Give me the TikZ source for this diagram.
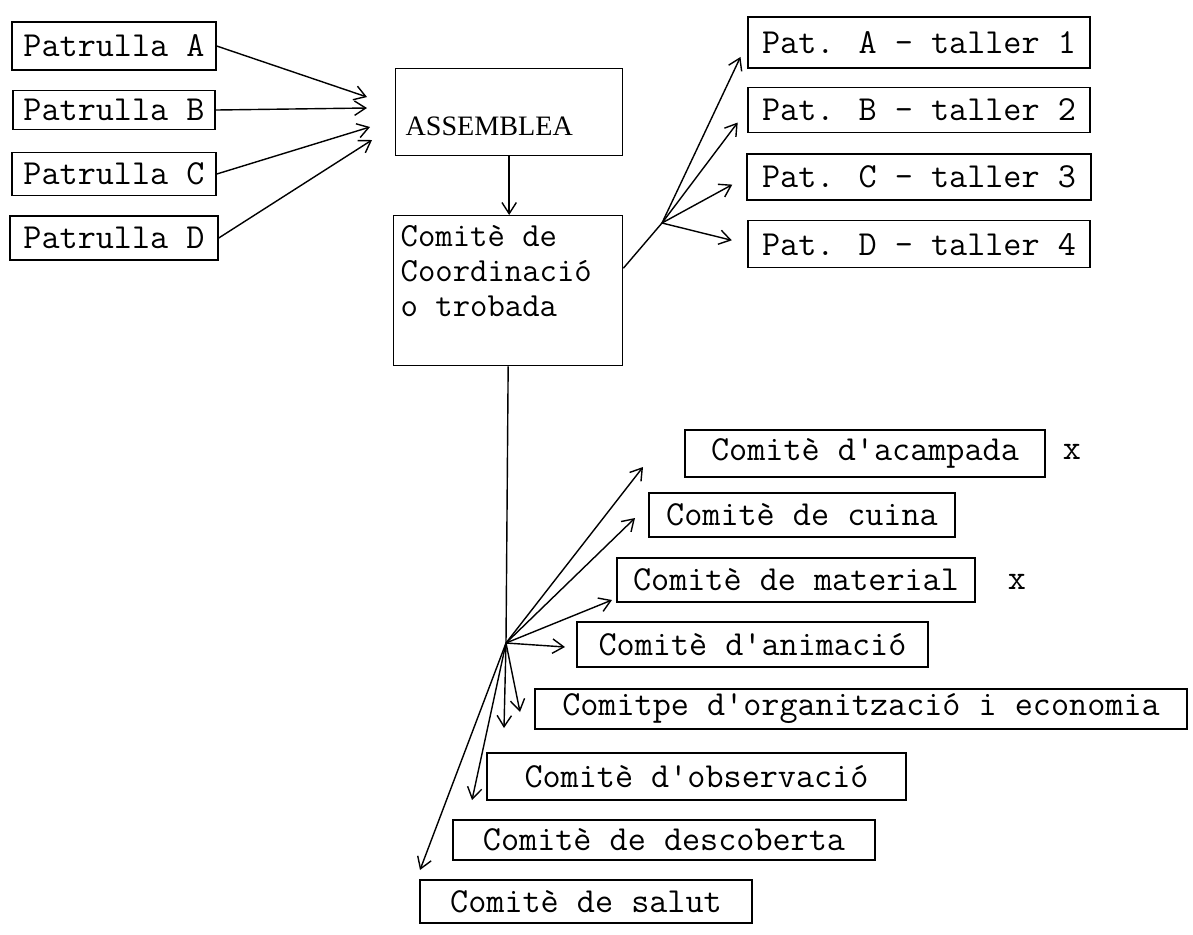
\documentclass[tikz,border=0pt]{standalone}
\usepackage{fontspec}
\newfontfamily\headfont{Liberation Serif}
\usetikzlibrary{arrows.meta, positioning}

\tikzset{
  box/.style={draw, line width=0.9pt, inner sep=0pt, font=\ttfamily\fontsize{25pt}{22pt}\selectfont},
  line/.style={line width=1pt},
  arr/.style={line, ->},
  crossmark/.style={font=\ttfamily\fontsize{25pt}{22pt}\selectfont}
}

\begin{document}
\begin{tikzpicture}[x=0.025cm, y=-0.025cm, >={Straight Barb[length=2.8mm, width=3.6mm]}, node distance=1.6cm]
    \useasboundingbox (0,0) rectangle (1193,935);

    % patrulles
    \node [box, minimum width=5.1cm, minimum height=1.2cm] (patrA) at (114,46) {Patrulla A};
    \node [box, below of=patrA, minimum width=5.05cm, minimum height=0.98cm] (patrB) {Patrulla B};
    \node [box, below of=patrB, minimum width=5.1cm, minimum height=1.08cm] (patrC) {Patrulla C};
    \node [box, below of=patrC, minimum width=5.2cm, minimum height=1.1cm] (patrD) {Patrulla D};

    \node [box, anchor=north west, font=\headfont\fontsize{20pt}{20pt}\selectfont, text width=5.175cm, align=left,
           inner xsep=0.25cm, text height=1.675cm, text depth=0.5cm] (assem) at (395,68) {ASSEMBLEA};
    \node [box, anchor=north west, inner xsep=0.175cm, font=\ttfamily\fontsize{24pt}{25pt}\selectfont] (coord) at (393,215)
          {\parbox[c][3.75cm][t]{5.375cm}{\vspace*{0.25cm}Comitè de\\Coordinació\\o trobada}};

    % tallers
    \node [box, minimum width=8.55cm, minimum height=1.275cm] (patA) at (919,42.5) {Pat. A - taller 1};
    \node [box, node distance=1.68cm, below of=patA, minimum width=8.55cm, minimum height=1.125cm] (patB) {Pat. B - taller 2};
    \node [box, node distance=1.68cm, below of=patB, minimum width=8.6cm, minimum height=1.15cm] (patC) {Pat. C - taller 3};
    \node [box, node distance=1.68cm, below of=patC, minimum width=8.55cm, minimum height=1.175cm] (patD) {Pat. D - taller 4};

    % comites
    \node [box, minimum width=9cm, minimum height=1.175cm] (acamp) at (865,453.5) {Comitè d\textquotesingle acampada};
    \node [box, minimum width=7.65cm, minimum height=1.1cm] (cuina) at (802,515) {Comitè de cuina};
    \node [box, minimum width=8.95cm, minimum height=1.1cm] (mater) at (796,580) {Comitè de material};
    \node [box, minimum width=8.775cm, minimum height=1.125cm] (anim) at (752.5,644.5) {Comitè d\textquotesingle animació};
    \node [box, minimum width=16.3cm, minimum height=1cm] (org) at (861,709) {Comitpe d\textquotesingle organització i economia};
    \node [box, minimum width=10.475cm, minimum height=1.175cm] (obs) at (696.5,776.5) {Comitè d\textquotesingle observació};
    \node [box, minimum width=10.55cm, minimum height=1cm] (desc) at (664,840) {Comitè de descoberta};
    \node [box, minimum width=8.3cm, minimum height=1.075cm] (salut) at (586,901.5) {Comitè de salut};
    \node [crossmark] (xAcamp) at (1072,452) {x};
    \node [crossmark] (xMater) at (1017,582) {x};

    % fletxes
    \coordinate (inA) at (367,97);
    \coordinate (inB) at (367,108);
    \coordinate (inC) at (370,127);
    \coordinate (inD) at (372,140);
    \foreach \n in {A,B,C,D}
        \draw [arr] (patr\n.east) -- (in\n);
    \draw [arr] (assem.south) -- (assem.south |- coord.north);

    \coordinate (fanT) at (662,223);
    \draw [line] (coord.11) -- (fanT);
    \foreach \n in {A,B,C,D}
        \draw [arr, shorten >=0.4cm] (fanT) -- (pat\n.west);

    \coordinate (fan) at (506,643);
    \coordinate (toAcamp) at (643,467);
    \coordinate (toCuina) at (635,518);
    \coordinate (toMater) at (612,600);
    \coordinate (toAnim) at (565,647);
    \coordinate (toOrg) at (520,712);
    \coordinate (toDown) at (504,728);
    \coordinate (toObs) at (472,800);
    \coordinate (toSalut) at (420,870);
    \draw [line] (coord.south) -- (fan);
    \foreach \t in {Acamp,Cuina,Mater,Anim,Org,Down,Obs,Salut}
        \draw [arr] (fan) -- (to\t);
\end{tikzpicture}
\end{document}
